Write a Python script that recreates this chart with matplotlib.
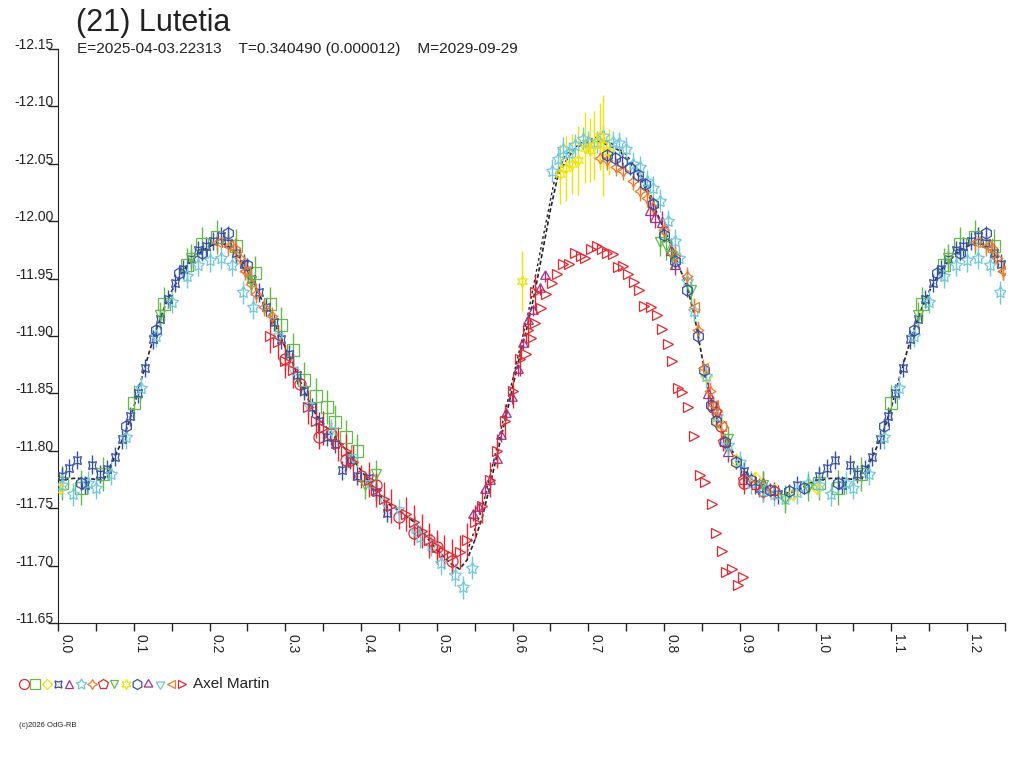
import numpy as np
import matplotlib
matplotlib.use("Agg")
import matplotlib.pyplot as plt

plt.rcParams['font.family'] = ['Liberation Sans', 'DejaVu Sans']

RED = '#e8262e'
GREEN = '#62bb44'
YELLOW = '#f2e200'
BLUE = '#3450a6'
PURPLE = '#a8307e'
CYAN = '#70c8de'
ORANGE = '#f07a2c'

title = "(21) Lutetia"
subtitle = "E=2025-04-03.22313    T=0.340490 (0.000012)    M=2029-09-29"
observer = "Axel Martin"
copyright_txt = "(c)2026 OdG-RB"

ytick_vals = [-12.15, -12.10, -12.05, -12.00, -11.95, -11.90, -11.85, -11.80, -11.75, -11.70, -11.65]
xtick_vals = [0.0, 0.1, 0.2, 0.3, 0.4, 0.5, 0.6, 0.7, 0.8, 0.9, 1.0, 1.1, 1.2]

# model curve (phase, mag)
model_ph = [0.00, 0.02, 0.04, 0.06, 0.07, 0.08, 0.09, 0.10, 0.11, 0.12, 0.13, 0.14, 0.15, 0.16, 0.17,
            0.18, 0.19, 0.20, 0.21, 0.22, 0.23, 0.24, 0.25, 0.26, 0.27, 0.28, 0.29, 0.30, 0.31, 0.32,
            0.33, 0.34, 0.35, 0.36, 0.37, 0.38, 0.39, 0.40, 0.41, 0.42, 0.43, 0.44, 0.45, 0.46, 0.47,
            0.48, 0.49, 0.50, 0.51, 0.52, 0.53, 0.54, 0.55, 0.56, 0.57, 0.58, 0.59, 0.60, 0.61, 0.62,
            0.63, 0.64, 0.65, 0.66, 0.67, 0.68, 0.69, 0.70, 0.71, 0.72, 0.73, 0.74, 0.75, 0.76, 0.77,
            0.78, 0.79, 0.80, 0.81, 0.82, 0.83, 0.84, 0.85, 0.86, 0.87, 0.88, 0.89, 0.90, 0.91, 0.92,
            0.93, 0.94, 0.95, 0.96, 0.97, 0.98, 0.99, 1.00]
model_mag = [-11.774, -11.776, -11.776, -11.774, -11.788, -11.802, -11.818, -11.838, -11.862, -11.885,
             -11.906, -11.924, -11.939, -11.951, -11.961, -11.968, -11.974, -11.978, -11.981, -11.980,
             -11.975, -11.968, -11.957, -11.944, -11.930, -11.918, -11.905, -11.890, -11.876, -11.860,
             -11.845, -11.832, -11.824, -11.816, -11.808, -11.801, -11.792, -11.783, -11.774, -11.765,
             -11.757, -11.752, -11.748, -11.743, -11.738, -11.731, -11.722, -11.714, -11.707, -11.701,
             -11.697, -11.705, -11.722, -11.742, -11.769, -11.798, -11.826, -11.855, -11.884, -11.910,
             -11.940, -11.975, -12.010, -12.040, -12.052, -12.062, -12.066, -12.069, -12.070, -12.068,
             -12.065, -12.062, -12.055, -12.046, -12.036, -12.022, -12.008, -11.993, -11.978, -11.960,
             -11.944, -11.918, -11.882, -11.848, -11.828, -11.812, -11.800, -11.789, -11.780, -11.772,
             -11.768, -11.765, -11.763, -11.763, -11.764, -11.767, -11.771, -11.774]
model2_ph = [0.54, 0.56, 0.58, 0.60, 0.62, 0.64, 0.655, 0.67, 0.69, 0.71, 0.73, 0.75, 0.77, 0.79]
model2_mag = [-11.712, -11.750, -11.805, -11.862, -11.918, -11.985, -12.035, -12.058, -12.068, -12.073,
              -12.068, -12.058, -12.040, -12.012]

# 1 red circles
red_o_ph = [0.30, 0.32, 0.345, 0.36, 0.38, 0.40, 0.42, 0.45, 0.47, 0.49, 0.50, 0.52, 0.865, 0.875, 0.905, 0.93]
red_o_mag = [-11.880, -11.858, -11.812, -11.815, -11.792, -11.778, -11.770, -11.742, -11.728, -11.722,
             -11.716, -11.704, -11.838, -11.822, -11.772, -11.765]
red_o_err = 0.010

# 2 green squares
grn_s_ph = [0.005, 0.03, 0.06, 0.10, 0.14, 0.17, 0.19, 0.21, 0.235, 0.26, 0.28, 0.295, 0.31, 0.325,
            0.34, 0.355, 0.365, 0.38, 0.395]
grn_s_mag = [-11.772, -11.768, -11.780, -11.842, -11.928, -11.962, -11.980, -11.986, -11.978, -11.955,
             -11.928, -11.910, -11.888, -11.862, -11.848, -11.838, -11.825, -11.812, -11.800]
grn_s_err = 0.015

# 3 yellow diamonds
yel_d_ph = [0.002, 0.855, 0.87, 0.895, 0.92, 0.945, 0.97]
yel_d_mag = [-11.768, -11.865, -11.826, -11.792, -11.776, -11.766, -11.762]
yel_d_err = 0.006

# 4 blue four-point stars
blu_x_ph = [0.005, 0.015, 0.025, 0.035, 0.045, 0.055, 0.065, 0.075, 0.085, 0.095, 0.105, 0.115, 0.125,
            0.135, 0.145, 0.155, 0.165, 0.175, 0.185, 0.195, 0.205, 0.215, 0.225, 0.235, 0.245, 0.255,
            0.265, 0.275, 0.285, 0.295, 0.305, 0.315, 0.325, 0.335, 0.345, 0.355, 0.365, 0.375, 0.385,
            0.395, 0.41, 0.42, 0.434, 0.905, 0.925, 0.95, 0.975]
blu_x_mag = [-11.778, -11.785, -11.792, -11.770, -11.788, -11.780, -11.784, -11.795, -11.810, -11.830,
             -11.850, -11.872, -11.897, -11.915, -11.932, -11.946, -11.958, -11.967, -11.975, -11.978,
             -11.983, -11.987, -11.981, -11.972, -11.963, -11.950, -11.938, -11.925, -11.912, -11.897,
             -11.884, -11.866, -11.852, -11.838, -11.826, -11.812, -11.806, -11.783, -11.792, -11.778,
             -11.776, -11.764, -11.746, -11.782, -11.768, -11.762, -11.770]
blu_x_err = 0.008

# 5 purple triangles
pur_t_ph = [0.781, 0.788, 0.797, 0.809, 0.815, 0.858, 0.885, 0.93]
pur_t_mag = [-12.010, -12.004, -11.999, -11.975, -11.963, -11.850, -11.800, -11.772]
pur_t_err = 0.010

# 6 cyan stars
cyn_s_ph = [0.005, 0.02, 0.04, 0.05, 0.07, 0.09, 0.11, 0.13, 0.15, 0.17, 0.185, 0.20, 0.215, 0.23,
            0.244, 0.257, 0.471, 0.478, 0.493, 0.506, 0.524, 0.534, 0.546, 0.652, 0.66, 0.666, 0.675,
            0.682, 0.693, 0.699, 0.711, 0.719, 0.732, 0.741, 0.75, 0.759, 0.768, 0.777, 0.785, 0.794,
            0.805, 0.814, 0.82, 0.83, 0.84, 0.855, 0.87, 0.885, 0.90, 0.915, 0.93, 0.945, 0.96, 0.975, 0.99]
cyn_s_mag = [-11.770, -11.762, -11.772, -11.768, -11.780, -11.812, -11.855, -11.900, -11.930, -11.952,
             -11.962, -11.966, -11.968, -11.962, -11.938, -11.925, -11.733, -11.725, -11.718, -11.702,
             -11.692, -11.681, -11.698, -12.044, -12.054, -12.063, -12.059, -12.066, -12.072, -12.069,
             -12.069, -12.074, -12.069, -12.068, -12.063, -12.050, -12.047, -12.035, -12.029, -12.018,
             -12.000, -11.983, -11.968, -11.948, -11.922, -11.865, -11.830, -11.805, -11.790, -11.772,
             -11.765, -11.762, -11.758, -11.764, -11.772]
cyn_s_err = 0.010

# 7 orange four-point stars
orn_x_ph = [0.233, 0.240, 0.247, 0.255, 0.262, 0.272, 0.282, 0.715, 0.724, 0.737, 0.746, 0.759, 0.768,
            0.777, 0.785, 0.800, 0.815, 0.830, 0.845, 0.860, 0.870]
orn_x_mag = [-11.977, -11.968, -11.957, -11.945, -11.937, -11.925, -11.917, -12.055, -12.053, -12.047,
             -12.044, -12.035, -12.026, -12.020, -12.012, -11.992, -11.970, -11.952, -11.905, -11.852,
             -11.835]
orn_x_err = 0.008

# 8 red pentagons
red_p_ph = [0.868, 0.878, 0.904, 0.92, 0.945]
red_p_mag = [-11.834, -11.808, -11.775, -11.770, -11.765]
red_p_err = 0.008

# 9 green down triangles
grn_v_ph = [0.135, 0.175, 0.255, 0.405, 0.42, 0.795, 0.803, 0.81, 0.835, 0.885, 0.93, 0.96, 0.99]
grn_v_mag = [-11.918, -11.968, -11.948, -11.770, -11.780, -11.982, -11.978, -11.970, -11.940, -11.810,
             -11.770, -11.758, -11.768]
grn_v_err = 0.012

# 10 yellow stars (large errors)
yel_s_ph = [0.612, 0.662, 0.671, 0.678, 0.686, 0.695, 0.702, 0.708, 0.715, 0.720, 0.727]
yel_s_mag = [-11.948, -12.041, -12.046, -12.050, -12.053, -12.064, -12.062, -12.066, -12.074, -12.066, -12.060]
yel_s_err = [0.026, 0.026, 0.028, 0.026, 0.030, 0.031, 0.028, 0.030, 0.029, 0.044, 0.020]

# 11 blue hexagons
blu_h_ph = [0.725, 0.735, 0.745, 0.755, 0.765, 0.775, 0.785, 0.80, 0.815, 0.83, 0.845, 0.853, 0.862,
            0.868, 0.88, 0.895, 0.915, 0.94, 0.965, 0.985, 0.03, 0.09, 0.13, 0.16, 0.19, 0.225, 0.25]
blu_h_mag = [-12.058, -12.055, -12.052, -12.046, -12.040, -12.032, -12.015, -11.988, -11.965, -11.940,
             -11.900, -11.870, -11.840, -11.826, -11.808, -11.790, -11.775, -11.766, -11.765, -11.768,
             -11.772, -11.822, -11.905, -11.955, -11.972, -11.990, -11.962]
blu_h_err = 0.006

# 12 purple (rising branch)
pur_r_ph = [0.548, 0.556, 0.563, 0.570, 0.579, 0.585, 0.592, 0.599, 0.607, 0.614, 0.621, 0.627, 0.636, 0.643]
pur_r_mag = [-11.744, -11.750, -11.766, -11.774, -11.792, -11.813, -11.832, -11.846, -11.870, -11.893,
             -11.913, -11.922, -11.941, -11.952]
pur_r_err = 0.005

# 13 cyan (descending branch)
cyn_r_ph = [0.29, 0.31, 0.33, 0.36, 0.39, 0.41, 0.43, 0.45]
cyn_r_mag = [-11.900, -11.870, -11.840, -11.818, -11.795, -11.772, -11.756, -11.748]
cyn_r_err = 0.010

# 14 orange left triangles
orn_l_ph = [0.21, 0.225, 0.247, 0.84, 0.852, 0.865, 0.875]
orn_l_mag = [-11.982, -11.978, -11.957, -11.925, -11.872, -11.840, -11.822]
orn_l_err = 0.008

# 15 red right triangles (Axel Martin)
red_r_ph = [0.28, 0.29, 0.30, 0.31, 0.33, 0.34, 0.35, 0.37, 0.38, 0.39, 0.41, 0.42, 0.43, 0.44, 0.46,
            0.47, 0.48, 0.49, 0.50, 0.51, 0.52, 0.53, 0.54, 0.55, 0.56, 0.57, 0.58, 0.59, 0.60, 0.61,
            0.62, 0.63]
red_r_mag = [-11.900, -11.895, -11.878, -11.870, -11.838, -11.826, -11.820, -11.806, -11.800, -11.790,
             -11.775, -11.766, -11.758, -11.752, -11.745, -11.738, -11.730, -11.722, -11.716, -11.712,
             -11.708, -11.712, -11.722, -11.738, -11.752, -11.775, -11.800, -11.826, -11.852, -11.880,
             -11.905, -11.938]
red_r_err = 0.015

# offset night, no error bars
red_off_ph = [0.618, 0.624, 0.630, 0.637, 0.644, 0.652, 0.659, 0.666, 0.674, 0.682, 0.690, 0.696, 0.704,
              0.711, 0.718, 0.725, 0.732, 0.739, 0.746, 0.753, 0.760, 0.767, 0.774, 0.783, 0.790, 0.797,
              0.805, 0.811, 0.818, 0.824, 0.832, 0.839, 0.848, 0.854, 0.863, 0.869, 0.877, 0.882, 0.890,
              0.897, 0.904]
red_off_mag = [-11.884, -11.898, -11.911, -11.924, -11.937, -11.946, -11.954, -11.963, -11.963, -11.972,
               -11.970, -11.968, -11.976, -11.978, -11.976, -11.972, -11.971, -11.960, -11.961, -11.954,
               -11.947, -11.940, -11.926, -11.925, -11.918, -11.906, -11.893, -11.878, -11.855, -11.851,
               -11.838, -11.813, -11.779, -11.773, -11.754, -11.728, -11.713, -11.694, -11.697, -11.683,
               -11.690]


def wrap(ph, mag, err=None):
    # repeat the first quarter of phase after 1.0
    ph = np.asarray(ph, float)
    mag = np.asarray(mag, float)
    sel = ph < 0.25
    out_ph = np.concatenate([ph, ph[sel] + 1.0])
    out_mag = np.concatenate([mag, mag[sel]])
    if err is None:
        return out_ph, out_mag
    err = np.broadcast_to(np.asarray(err, float), ph.shape)
    return out_ph, out_mag, np.concatenate([err, err[sel]])


fig = plt.figure(figsize=(10.24, 7.68), dpi=100)
ax = fig.add_axes([58 / 1024, 145 / 768, 947 / 1024, 574 / 768])

mph, mmag = wrap(model_ph, model_mag)
ax.plot(mph, mmag, color='#222222', lw=1.2, ls=(0, (2.5, 1.5)), zorder=2.5)
ax.plot(model2_ph, model2_mag, color='#222222', lw=1.0, ls=(0, (2, 2)), zorder=2.5)

series = [
    (red_o_ph, red_o_mag, red_o_err, 'o', RED, 8),
    (grn_s_ph, grn_s_mag, grn_s_err, 's', GREEN, 8),
    (yel_d_ph, yel_d_mag, yel_d_err, 'D', YELLOW, 6),
    (blu_x_ph, blu_x_mag, blu_x_err, (4, 1, 45), BLUE, 8),
    (pur_t_ph, pur_t_mag, pur_t_err, '^', PURPLE, 7),
    (cyn_s_ph, cyn_s_mag, cyn_s_err, (5, 1, 0), CYAN, 9),
    (orn_x_ph, orn_x_mag, orn_x_err, (4, 1, 0), ORANGE, 8),
    (red_p_ph, red_p_mag, red_p_err, 'p', RED, 8),
    (grn_v_ph, grn_v_mag, grn_v_err, 'v', GREEN, 7),
    (yel_s_ph, yel_s_mag, yel_s_err, (6, 1, 0), YELLOW, 8),
    (blu_h_ph, blu_h_mag, blu_h_err, 'h', BLUE, 8),
    (pur_r_ph, pur_r_mag, pur_r_err, (3, 1, 0), PURPLE, 8),
    (cyn_r_ph, cyn_r_mag, cyn_r_err, (3, 1, 180), CYAN, 8),
    (orn_l_ph, orn_l_mag, orn_l_err, '<', ORANGE, 7),
    (red_r_ph, red_r_mag, red_r_err, '>', RED, 7),
]

for ph, mag, err, mk, col, ms in series:
    p, m, e = wrap(ph, mag, err)
    ax.errorbar(p, m, yerr=e, fmt='none', ecolor=col, elinewidth=1.0, capsize=0, zorder=3)
    ax.plot(p, m, ls='none', marker=mk, ms=ms, mfc='none', mec=col, mew=0.9, zorder=4)

ax.plot(red_off_ph, red_off_mag, ls='none', marker='>', ms=7, mfc='none', mec=RED, mew=0.9, zorder=4)

ax.set_xlim(0, 1.25)
ax.set_ylim(-11.65, -12.15)
ax.spines['top'].set_visible(False)
ax.spines['right'].set_visible(False)
ax.spines['left'].set_color('#222222')
ax.spines['bottom'].set_color('#222222')

ax.set_xticks(xtick_vals)
ax.set_xticklabels(['%.1f' % v for v in xtick_vals], rotation=-90, ha='left', va='top',
                   fontsize=10, color='#222222')
ax.set_xticks([v + 0.05 for v in xtick_vals], minor=True)
ax.tick_params(axis='x', which='both', direction='out', length=6, width=1, color='#222222', pad=2)

ax.set_yticks(ytick_vals)
ax.set_yticklabels(['%.2f' % v for v in ytick_vals], fontsize=10, color='#222222')
ax.tick_params(axis='y', direction='out', length=7, width=1, color='#222222', pad=-4)
for lab in ax.get_yticklabels():
    lab.set_verticalalignment('baseline')

fig.text(76 / 1024, 1 - 31 / 768, title, fontsize=22, color='#222222')
fig.text(77 / 1024, 1 - 53 / 768, subtitle, fontsize=11.1, color='#222222')

# symbol legend
leg_y = 1 - 684 / 768
for i, (ph, mag, err, mk, col, ms) in enumerate(series):
    ax.plot([(24 + 11.3 * i) / 1024], [leg_y], transform=fig.transFigure, clip_on=False,
            ls='none', marker=mk, ms=ms * 0.9, mfc='none', mec=col, mew=0.9)
fig.text(193 / 1024, leg_y, observer, fontsize=11, color='#222222', va='center')
fig.text(19 / 1024, 1 - 727 / 768, copyright_txt, fontsize=5.5, color='#222222')

fig.savefig('out.png', dpi=100)
